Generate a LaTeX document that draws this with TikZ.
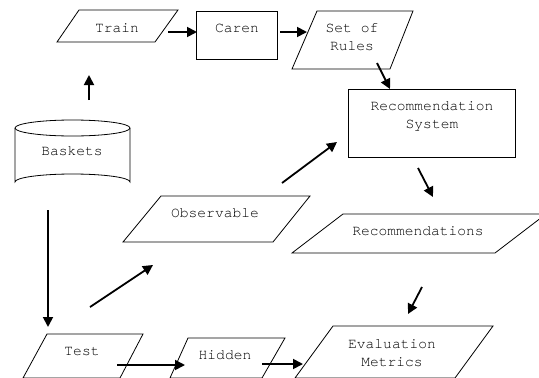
\documentclass[tikz,border=0pt]{standalone}
\usepackage{fontspec}
\setmonofont{TeX Gyre Cursor}
\usetikzlibrary{arrows.meta}
\begin{document}
\begin{tikzpicture}[x=1pt,y=-1pt,
  shapeline/.style={draw=black,line width=0.8pt,line join=miter},
  lbl/.style={font=\ttfamily\fontsize{14.6}{18}\selectfont,align=center,inner sep=0pt},
  flow/.style={line width=1.8pt,-{Triangle[length=10pt,width=10pt]}}]
\useasboundingbox (0,0) rectangle (539,378);
\fill[white] (0,0) rectangle (539,378);
\clip (0,0) rectangle (539,378);
% shapes
\draw[shapeline] (79,10) -- (178,10) -- (155,42) -- (57,42) -- cycle;
\draw[shapeline] (196,11) rectangle (277,59);
\draw[shapeline] (317,11) -- (413,11) -- (390,69) -- (292,69) -- cycle;
\draw[shapeline] (348,89) rectangle (515,157);
\draw[shapeline] (161,196) -- (310,196) -- (273,242) -- (123,242) -- cycle;
\draw[shapeline] (343,214) -- (546,214) -- (495,253) -- (292,253) -- cycle;
\draw[shapeline] (47,334) -- (143,334) -- (120,378) -- (23,378) -- cycle;
\draw[shapeline] (188,338) -- (285,338) -- (262,378) -- (170,378) -- cycle;
\draw[shapeline] (333,326) -- (493,326) -- (455,378) -- (295,378) -- cycle;
% cylinder
\draw[shapeline] (15,128) -- (15,182) arc[start angle=180,end angle=360,x radius=57.5,y radius=8] -- (130,128);
\draw[shapeline] (72.5,128) ellipse[x radius=57.5,y radius=8];
% labels
\node[lbl] (train) at (117,28) {Train};
\node[lbl] (caren) at (237,28) {Caren};
\node[lbl] (rules) at (352,37) {Set of\\Rules};
\node[lbl] (recsys) at (432,116) {Recommendation\\System};
\node[lbl] (baskets) at (72,151) {Baskets};
\node[lbl] (obs) at (215,213) {Observable};
\node[lbl] (recs) at (418,231) {Recommendations};
\node[lbl] (test) at (82,352) {Test};
\node[lbl] (hidden) at (225,355) {Hidden};
\node[lbl] (eval) at (392,353) {Evaluation\\Metrics};
% arrow end points
\coordinate (a1s) at (89,100);  \coordinate (a1e) at (89,75);
\coordinate (a2s) at (168,32);  \coordinate (a2e) at (197,32);
\coordinate (a3s) at (280,32);  \coordinate (a3e) at (307,32);
\coordinate (a4s) at (377,63);  \coordinate (a4e) at (390,89);
\coordinate (a5s) at (282,183); \coordinate (a5e) at (337,142);
\coordinate (a6s) at (418,168); \coordinate (a6e) at (433,197);
\coordinate (a7s) at (422,287); \coordinate (a7e) at (408,314);
\coordinate (a8s) at (48,210);  \coordinate (a8e) at (48,327);
\coordinate (a9s) at (90,307);  \coordinate (a9e) at (153,265);
\coordinate (a10s) at (117,365); \coordinate (a10e) at (185,365);
\coordinate (a11s) at (262,364); \coordinate (a11e) at (303,364);
\draw[flow] (a1s) -- (a1e);
\draw[flow] (a2s) -- (a2e);
\draw[flow] (a3s) -- (a3e);
\draw[flow] (a4s) -- (a4e);
\draw[flow] (a5s) -- (a5e);
\draw[flow] (a6s) -- (a6e);
\draw[flow] (a7s) -- (a7e);
\draw[flow] (a8s) -- (a8e);
\draw[flow] (a9s) -- (a9e);
\draw[flow] (a10s) -- (a10e);
\draw[flow] (a11s) -- (a11e);
\end{tikzpicture}
\end{document}
